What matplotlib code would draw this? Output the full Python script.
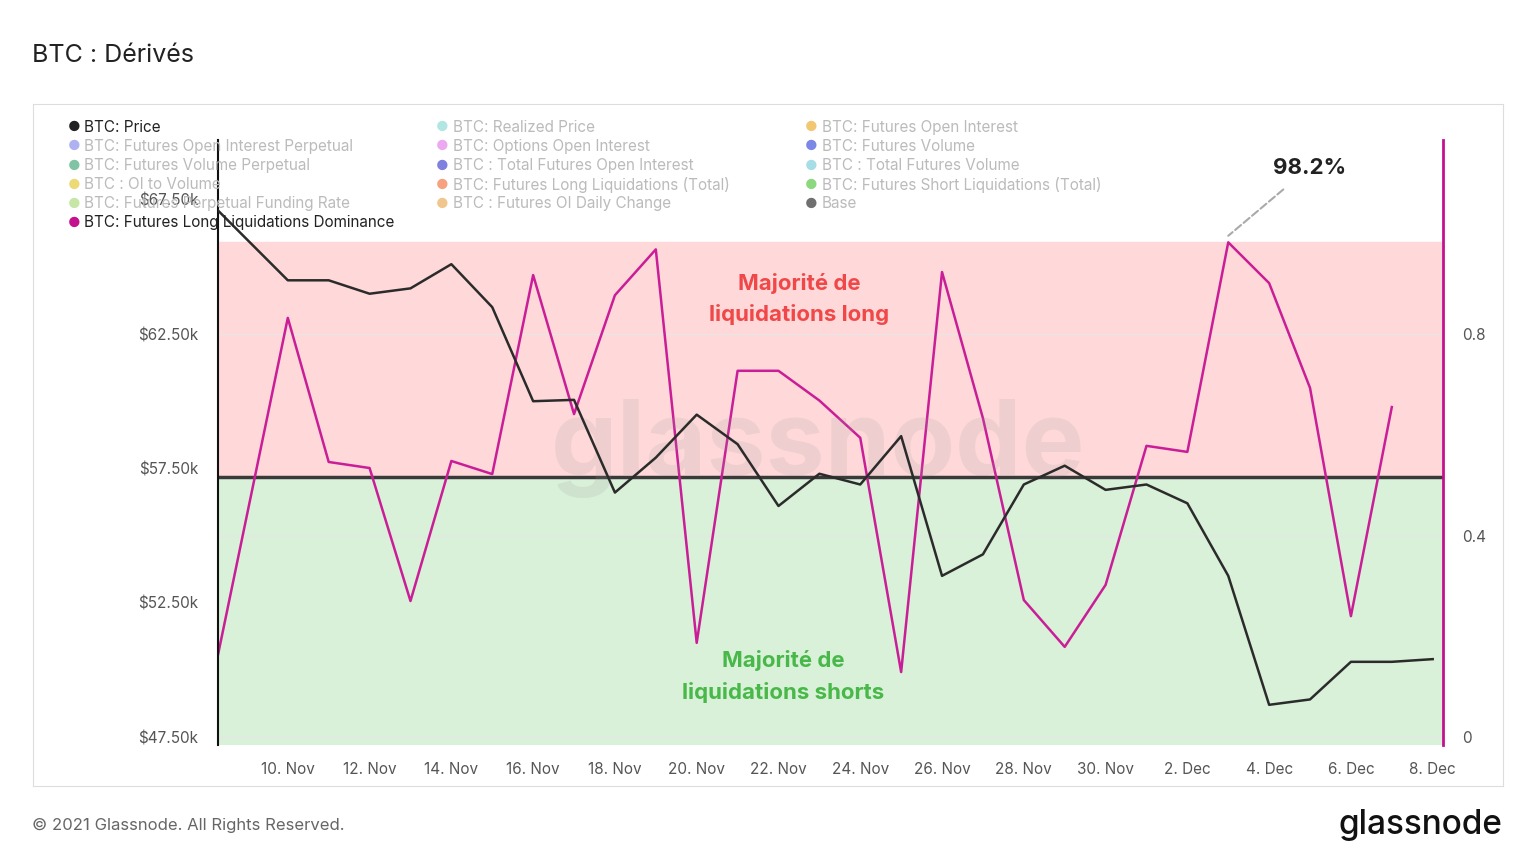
import matplotlib
matplotlib.use("Agg")
import matplotlib.pyplot as plt
import pandas as pd

plt.rcParams["font.family"] = "Inter"

price_dates = pd.to_datetime(["2021-11-08 07:00"] + [f"2021-11-{d:02d} 00:00" for d in range(10, 31)]
                             + [f"2021-12-{d:02d} 00:00" for d in range(1, 9)], format="%Y-%m-%d %H:%M")
price_k = [67.1, 64.5, 64.5, 64.0, 64.2, 65.1, 63.5, 60.0, 60.05, 56.6, 57.9, 59.5, 58.4,
           56.1, 57.3, 56.9, 58.7, 53.5, 54.3, 56.9, 57.6, 56.7, 56.9, 56.2, 53.5, 48.7,
           48.9, 50.3, 50.3, 50.4]
dominance = [0.163, 0.832, 0.546, 0.534, 0.270, 0.548, 0.522, 0.917, 0.641, 0.877, 0.968,
             0.187, 0.727, 0.727, 0.668, 0.594, 0.129, 0.923, 0.633, 0.272, 0.179, 0.302,
             0.578, 0.566, 0.982, 0.901, 0.693, 0.240, 0.655]
dom_dates = price_dates[:len(dominance)]

legend_items = [
    ("BTC: Price", "#222222", True), ("BTC: Realized Price", "#7fd6cf", False),
    ("BTC: Futures Open Interest", "#e8a317", False),
    ("BTC: Futures Open Interest Perpetual", "#7b7fe8", False),
    ("BTC: Options Open Interest", "#e06ee8", False), ("BTC: Futures Volume", "#2638d6", False),
    ("BTC: Futures Volume Perpetual", "#2e9e6a", False),
    ("BTC : Total Futures Open Interest", "#2b2bc9", False),
    ("BTC : Total Futures Volume", "#6cc9d6", False), ("BTC : OI to Volume", "#e0c21d", False),
    ("BTC: Futures Long Liquidations (Total)", "#f0642d", False),
    ("BTC: Futures Short Liquidations (Total)", "#3fbf2a", False),
    ("BTC: Futures Perpetual Funding Rate", "#9fd66a", False),
    ("BTC : Futures OI Daily Change", "#e8a040", False), ("Base", "#111111", False),
    ("BTC: Futures Long Liquidations Dominance", "#c4128f", True),
]

fig = plt.figure(figsize=(15.36, 8.64), dpi=100)
fig.text(0.021, 0.936, "BTC : Dérivés", fontsize=18, color="#222222", va="center")
frame = fig.add_axes([0.0215, 0.09, 0.957, 0.79])
frame.set_xticks([]); frame.set_yticks([])
for s in frame.spines.values():
    s.set_color("#dddddd")

ax = fig.add_axes([0.1419, 0.1376, 0.7975, 0.7003])
ax2 = ax.twinx()
ax.set_zorder(ax2.get_zorder() + 1); ax.patch.set_visible(False)

xmin, xmax = price_dates[0], pd.Timestamp("2021-12-08 06:00")
ax2.axhspan(-0.02, 0.516, color="#d9f0d9", zorder=0)
ax2.axhspan(0.516, 0.982, color="#ffd9d9", zorder=0)
ax2.axhline(0.516, color="#3a3a3a", lw=2.5, zorder=1)
ax2.plot(dom_dates, dominance, color="#c91e97", lw=1.8, zorder=3)
ax2.set_ylim(-0.016, 1.185)
ax2.set_yticks([0, 0.4, 0.8]); ax2.set_yticklabels(["0", "0.4", "0.8"])
ax.plot(price_dates, price_k, color="#2b2b2b", lw=1.8, zorder=4)
ax.set_ylim(47.2, 69.72)
ax.set_yticks([47.5, 52.5, 57.5, 62.5, 67.5])
ax.set_yticklabels(["$47.50k", "$52.50k", "$57.50k", "$62.50k", "$67.50k"])
ax.set_xlim(xmin, xmax)
ticks = pd.date_range("2021-11-10", "2021-12-08", freq="2D")
ax.set_xticks(ticks)
ax.set_xticklabels([f"{t.day}. " + ("Nov" if t.month == 11 else "Dec") for t in ticks])
for a in (ax, ax2):
    a.tick_params(length=0, labelsize=11, colors="#555555")
    for s in a.spines.values():
        s.set_visible(False)
ax.spines["left"].set_visible(True); ax.spines["left"].set_color("#111111"); ax.spines["left"].set_linewidth(1.5)
ax2.spines["right"].set_visible(True); ax2.spines["right"].set_color("#c4128f"); ax2.spines["right"].set_linewidth(2)
ax2.grid(axis="y", color="#e6e6e6", lw=0.8)
ax.tick_params(axis="y", pad=14)
ax.tick_params(axis="x", pad=12)
ax2.tick_params(axis="y", pad=14)

ax.text(0.49, 0.49, "glassnode", transform=ax.transAxes, fontsize=76, color="#999999",
        alpha=0.16, ha="center", va="center", fontweight="bold", zorder=2)
ax2.text(pd.Timestamp("2021-11-22 12:00"), 0.87, "Majorité de\nliquidations long", color="#f04848",
         fontsize=16, fontweight="bold", ha="center", va="center", linespacing=1.6, zorder=5)
ax2.text(pd.Timestamp("2021-11-22 03:00"), 0.12, "Majorité de\nliquidations shorts", color="#48b848",
         fontsize=16, fontweight="bold", ha="center", va="center", linespacing=1.6, zorder=5)
ax2.annotate("98.2%", xy=(pd.Timestamp("2021-12-03"), 0.995),
             xytext=(pd.Timestamp("2021-12-04 02:00"), 1.13), fontsize=16, fontweight="bold",
             color="#222222", ha="left", va="center",
             arrowprops=dict(arrowstyle="-", color="#aaaaaa", ls="--", lw=1.5,
                             shrinkA=10, shrinkB=0))

col_x = [0.044, 0.284, 0.524]
for i, (label, color, active) in enumerate(legend_items):
    col, row = i % 3, i // 3
    y = 0.853 - row * 0.0222
    fig.text(col_x[col], y, "●", color=color, alpha=1 if active else 0.6, fontsize=10, va="center")
    fig.text(col_x[col] + 0.011, y, label, color="#222222" if active else "#bbbbbb",
             fontsize=11, va="center")

fig.text(0.021, 0.045, "© 2021 Glassnode. All Rights Reserved.", fontsize=12, color="#666666", va="center")
fig.text(0.978, 0.045, "glassnode", fontsize=24, color="#111111", ha="right", va="center",
         fontweight="medium")
fig.savefig("out.png", dpi=100)
